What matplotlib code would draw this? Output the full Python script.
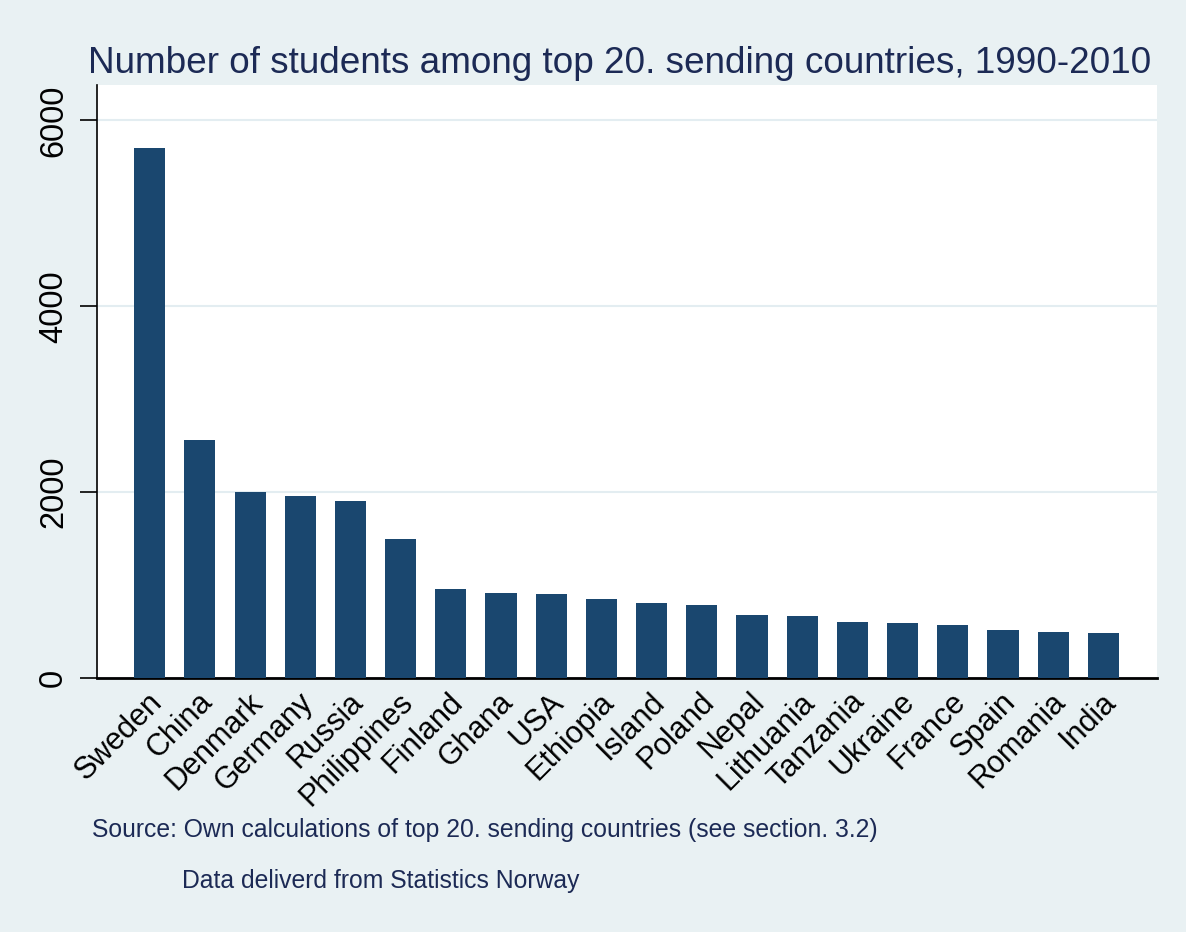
import matplotlib.pyplot as plt
import matplotlib.transforms as mtransforms
import numpy as np

countries = ["Sweden", "China", "Denmark", "Germany", "Russia", "Philippines",
             "Finland", "Ghana", "USA", "Ethiopia", "Island", "Poland", "Nepal",
             "Lithuania", "Tanzania", "Ukraine", "France", "Spain", "Romania", "India"]
students = [5705, 2565, 2002, 1960, 1903, 1501, 960, 912, 908, 852, 808, 787,
            682, 672, 600, 589, 567, 521, 500, 489]

bg = "#e9f1f3"
navy = "#1a476f"
textcol = "#1c2a55"

plt.rcParams['font.family'] = ['Liberation Sans', 'DejaVu Sans']

fig = plt.figure(figsize=(11.86, 9.32), dpi=100, facecolor=bg)
ax = fig.add_axes([0.0818, 0.2725, 0.8938, 0.6363])
ax.set_facecolor("white")

x = np.arange(len(countries))
ax.bar(x, students, width=0.62, color=navy, zorder=3)

ax.set_xlim(-1.05, len(countries) - 1 + 1.07)
ax.set_ylim(0, 6380)
ax.set_yticks([0, 2000, 4000, 6000])
ax.set_yticklabels(["0", "2000", "4000", "6000"], rotation=90, va="center",
                   fontsize=23.5)
ax.yaxis.grid(True, color="#e3edf1", linewidth=1.5, zorder=0)
ax.tick_params(axis="y", length=12, width=1.2, pad=8)

ax.set_xticks(x)
ax.set_xticklabels(countries, rotation=45, ha="right", va="center",
                   rotation_mode="anchor", fontsize=22)
ax.tick_params(axis="x", length=0, pad=14)
shift = mtransforms.ScaledTranslation(8 / 100, 0, fig.dpi_scale_trans)
for lab in ax.get_xticklabels():
    lab.set_transform(lab.get_transform() + shift)

for s in ["top", "right"]:
    ax.spines[s].set_visible(False)
ax.spines["left"].set_linewidth(1.2)
ax.spines["bottom"].set_linewidth(2)

fig.text(88 / 1186, 1 - 73 / 932, "Number of students among top 20. sending countries, 1990-2010",
         ha="left", va="baseline", fontsize=26.6, color=textcol)
fig.text(92 / 1186, 1 - 830 / 932,
         "Source: Own calculations of top 20. sending countries (see section. 3.2)",
         ha="left", va="center", fontsize=17.8, color=textcol)
fig.text(182 / 1186, 1 - 881 / 932, "Data deliverd from Statistics Norway",
         ha="left", va="center", fontsize=17.8, color=textcol)

fig.savefig("out.png", dpi=100, facecolor=bg)
